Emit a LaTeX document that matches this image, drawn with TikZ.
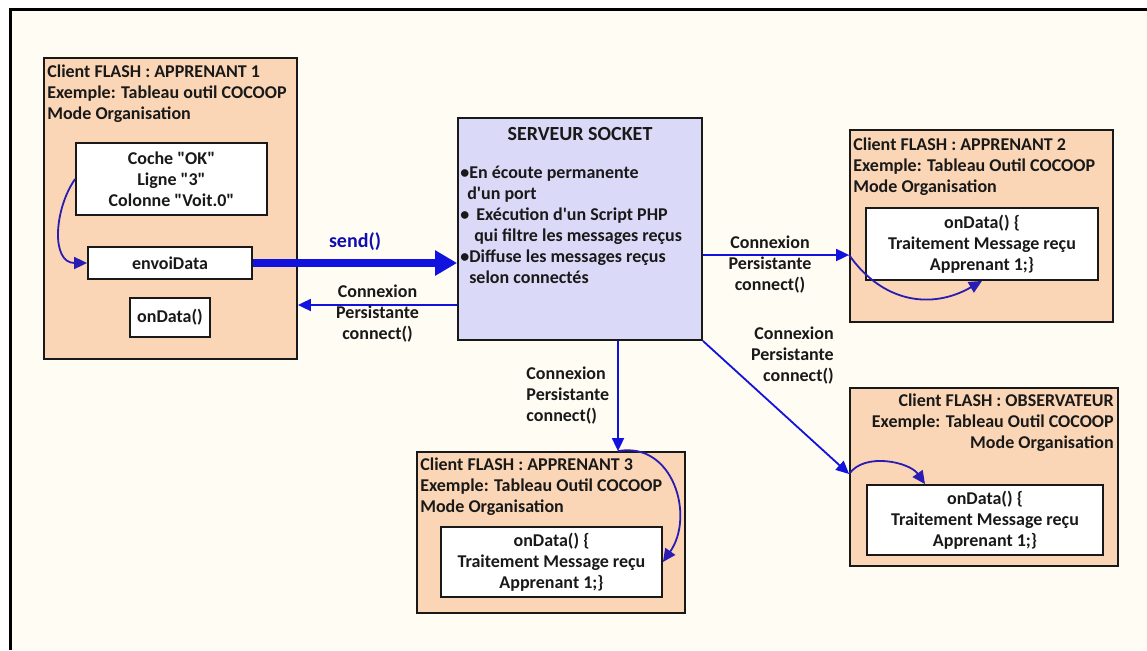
\documentclass[tikz,border=0pt]{standalone}
\usepackage{fontspec}
\setmainfont{Carlito}
\usepackage{tikz}
\usetikzlibrary{arrows.meta,positioning,calc}

\definecolor{cream}{RGB}{255,252,244}
\definecolor{peach}{RGB}{251,214,182}
\definecolor{lavender}{RGB}{218,218,248}
\definecolor{linkblue}{RGB}{18,18,222}
\definecolor{curveblue}{RGB}{40,28,178}
\definecolor{ink}{RGB}{25,25,25}

\begin{document}
\begin{tikzpicture}[
  x=1pt, y=-1pt,
  font=\bfseries\fontsize{18}{21}\selectfont, text=ink,
  client/.style={draw=ink, line width=1.8pt, fill=peach, inner sep=0pt},
  inner/.style={draw=ink, line width=1.8pt, fill=white, align=center, inner sep=0pt},
  server/.style={draw=ink, line width=1.8pt, fill=lavender, inner sep=0pt},
  headtext/.style={inner sep=0pt, align=left},
  lbl/.style={align=center, inner sep=0pt},
  link/.style={draw=linkblue, line width=1.8pt, -{Triangle[length=13pt,width=12pt]}},
  sendarrow/.style={draw=linkblue, line width=8pt, -{Triangle[length=22pt,width=24pt]}},
  curvearrow/.style={draw=curveblue, line width=1.8pt, -{Triangle[length=13pt,width=12pt]}}
]
% frame
\useasboundingbox (0,0) rectangle (1147,650);
\fill[cream] (10,10) rectangle (1147,650);
\draw[line width=3pt] (10,650) -- (10,10) -- (1147,10);

% client 1
\node[client, minimum width=253pt, minimum height=301pt] (app1) at (170.5,208.5) {};
\node[headtext, anchor=north west] (app1head) at ([shift={(4pt,-8pt)}]app1.north west)
  {Client FLASH : APPRENANT 1\\Exemple: Tableau outil COCOOP\\Mode Organisation};
\node[inner, minimum width=191pt, minimum height=72pt] (coche) at (171.5,179)
  {Coche \textquotedbl OK\textquotedbl\\Ligne \textquotedbl 3\textquotedbl\\Colonne \textquotedbl Voit.0\textquotedbl};
\node[inner, minimum width=164pt, minimum height=32pt] (envoi) at (170,263) {envoiData};
\node[inner, minimum width=80pt, minimum height=39pt] (ondata1) at (170,317.5) {onData()};

% serveur
\node[server, minimum width=244pt, minimum height=222pt] (srv) at (580,229) {};
\node[inner sep=0pt, font=\bfseries\fontsize{20}{23}\selectfont] (srvtitle) at (580,134) {SERVEUR SOCKET};
\node[headtext, anchor=north west] (srvtext) at ([shift={(3pt,-49pt)}]srv.north west)
  {•En écoute permanente\\\hspace{7pt}d\textquotesingle un port\\• \hspace{3pt}Exécution d\textquotesingle un Script PHP\\\hspace{14pt}qui filtre les messages reçus\\•Diffuse les messages reçus\\\hspace{9pt}selon connectés};

% client 2
\node[client, minimum width=263pt, minimum height=192pt] (app2) at (981.5,226) {};
\node[headtext, anchor=north west] (app2head) at ([shift={(4pt,-9pt)}]app2.north west)
  {Client FLASH : APPRENANT 2\\Exemple: Tableau Outil COCOOP\\Mode Organisation};
\node[inner, minimum width=232pt, minimum height=72pt] (ondata2) at (982,244)
  {onData() \{\\Traitement Message reçu\\Apprenant 1;\}};

% client 3
\node[client, minimum width=268pt, minimum height=161pt] (app3) at (551,532.5) {};
\node[headtext, anchor=north west] (app3head) at ([shift={(4pt,-7pt)}]app3.north west)
  {Client FLASH : APPRENANT 3\\Exemple: Tableau Outil COCOOP\\Mode Organisation};
\node[inner, minimum width=221pt, minimum height=70pt] (ondata3) at (551.5,562)
  {onData() \{\\Traitement Message reçu\\Apprenant 1;\}};

% observateur
\node[client, minimum width=268pt, minimum height=178pt] (obs) at (984,477) {};
\node[headtext, anchor=north east, align=right] (obshead) at ([shift={(-5pt,-7pt)}]obs.north east)
  {Client FLASH : OBSERVATEUR\\Exemple: Tableau Outil COCOOP\\Mode Organisation};
\node[inner, minimum width=236pt, minimum height=70pt] (ondata4) at (985,520)
  {onData() \{\\Traitement Message reçu\\Apprenant 1;\}};

% connexions
\coordinate (in1) at ([yshift=-76pt]srv.west);
\coordinate (in2) at ([yshift=-29pt]app2.west);
\coordinate (in3) at ([xshift=67pt]app3.north);
\coordinate (in4) at ([yshift=3pt]obs.west);

\draw[sendarrow] (envoi.east) -- (envoi.east -| srv.west)
  node[midway, above=5pt, text=linkblue!80!black, font=\bfseries\fontsize{20}{23}\selectfont] (sendlbl) {send()};
\draw[link] (in1) -- (in1 -| app1.east)
  node[lbl, midway, yshift=-9pt] (lbl1) {Connexion\\Persistante\\connect()};
\draw[link] (in2 -| srv.east) -- (in2)
  node[lbl, midway, xshift=-6pt, yshift=-10pt] (lbl2) {Connexion\\Persistante\\connect()};
\draw[link] (in3 |- srv.south) -- (in3)
  node[lbl, midway, left=8pt, align=left] (lbl3) {Connexion\\Persistante\\connect()};
\draw[link] (srv.south east) -- (in4);
\node[lbl, align=right, anchor=north east] (lbl4) at ([shift={(131pt,14pt)}]srv.south east)
  {Connexion\\Persistante\\connect()};

% traitements
\draw[curvearrow] (coche.west) to[out=235, in=180, looseness=1.1] (envoi.west);
\draw[curvearrow] (in2) to[out=-55, in=210, looseness=1.1] (ondata2.south);
\draw[curvearrow] (in3) to[out=10, in=55, looseness=1.2] (ondata3.east);
\draw[curvearrow] (in4) to[out=55, in=125, looseness=0.9] ([xshift=-60pt]ondata4.north);
\end{tikzpicture}
\end{document}
